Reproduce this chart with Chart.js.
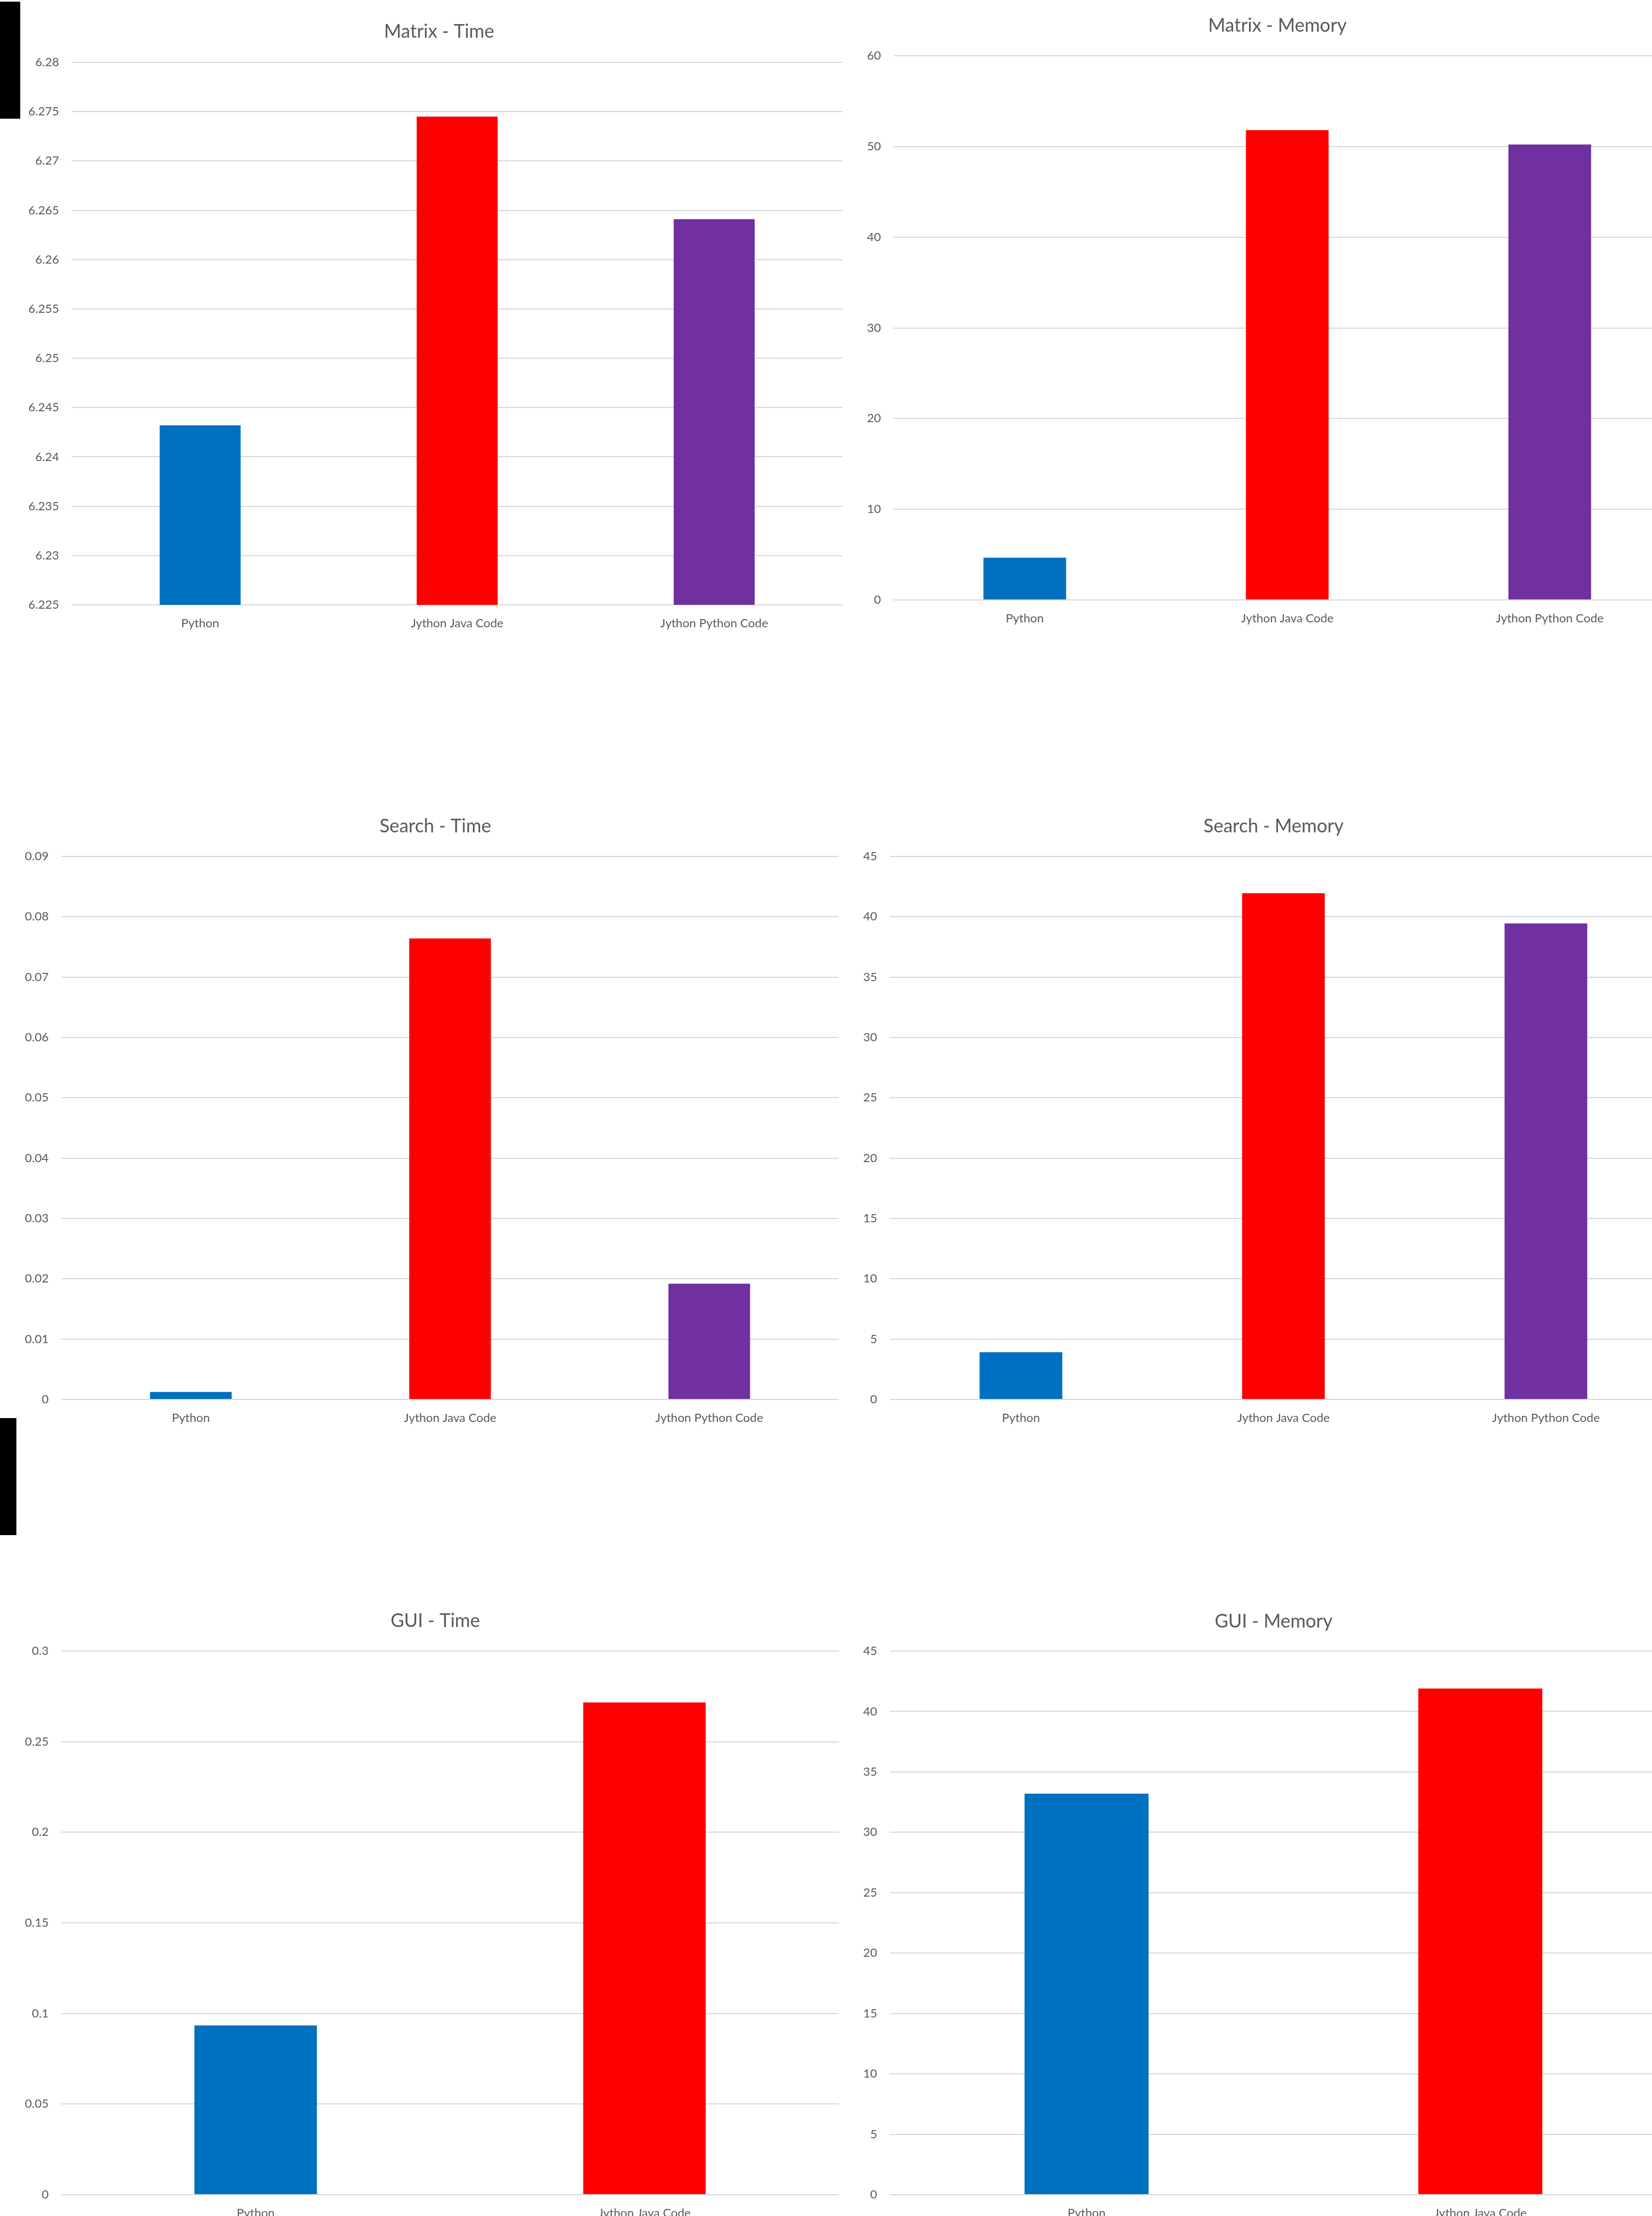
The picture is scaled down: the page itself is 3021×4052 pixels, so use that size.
<!DOCTYPE html>
<html>
<head>
<meta charset="utf-8">
<title>Python vs Jython benchmarks</title>
<script src="https://cdn.jsdelivr.net/npm/chart.js"></script>
<style>
    html, body { margin: 0; padding: 0; width: 3021px; height: 4052px; overflow: hidden; background: #fff; }
    canvas { position: absolute; }
    .mark { position: absolute; left: 0; background: #000; }
</style>
</head>
<body>
<div class="mark" style="top:3px;width:37px;height:214px"></div>
<div class="mark" style="top:2593px;width:30px;height:214px"></div>

<canvas id="matrixTime"></canvas>
<canvas id="matrixMemory"></canvas>
<canvas id="searchTime"></canvas>
<canvas id="searchMemory"></canvas>
<canvas id="guiTime"></canvas>
<canvas id="guiMemory"></canvas>

<script>
// Data
const threeCategories = ['Python', 'Jython Java Code', 'Jython Python Code'];
const twoCategories = ['Python', 'Jython Java Code'];

const matrixTimeValues = [6.2432, 6.2745, 6.2641];
const matrixMemoryValues = [4.66, 51.8, 50.22];
const searchTimeValues = [0.00125, 0.0764, 0.0192];
const searchMemoryValues = [3.92, 41.95, 39.45];
const guiTimeValues = [0.0934, 0.2716];
const guiMemoryValues = [33.2, 41.9];

const matrixTimeTicks = [6.225, 6.23, 6.235, 6.24, 6.245, 6.25, 6.255, 6.26, 6.265, 6.27, 6.275, 6.28];
const matrixMemoryTicks = [0, 10, 20, 30, 40, 50, 60];
const searchTimeTicks = [0, 0.01, 0.02, 0.03, 0.04, 0.05, 0.06, 0.07, 0.08, 0.09];
const searchMemoryTicks = [0, 5, 10, 15, 20, 25, 30, 35, 40, 45];
const guiTimeTicks = [0, 0.05, 0.1, 0.15, 0.2, 0.25, 0.3];
const guiMemoryTicks = [0, 5, 10, 15, 20, 25, 30, 35, 40, 45];

const barColors = ['#0070C0', '#FF0000', '#7030A0'];

const FONT = 'Lato, "Open Sans", sans-serif';
const TEXT = '#595959';
const GRID = '#d9d9d9';

// Build one chart; box = canvas placement and the space around the plot
function makeChart(id, title, categories, values, ticks, box) {
    const canvas = document.getElementById(id);
    canvas.width = box.w;
    canvas.height = box.h;
    canvas.style.left = box.x + 'px';
    canvas.style.top = box.y + 'px';

    return new Chart(canvas.getContext('2d'), {
        type: 'bar',
        data: {
            labels: categories,
            datasets: [{
                data: values,
                backgroundColor: barColors.slice(0, values.length),
                barPercentage: 0.315,
                categoryPercentage: 1
            }]
        },
        options: {
            responsive: false,
            animation: false,
            devicePixelRatio: 1,
            layout: { padding: 0 },
            plugins: {
                legend: { display: false },
                tooltip: { enabled: false },
                title: {
                    display: true,
                    text: title,
                    color: TEXT,
                    font: { family: FONT, size: 34, weight: 'normal', lineHeight: 1.2 },
                    padding: { top: box.titleTop, bottom: box.titleBottom }
                }
            },
            scales: {
                x: {
                    grid: { display: false },
                    border: { display: false },
                    ticks: {
                        color: TEXT,
                        font: { family: FONT, size: 22 },
                        padding: 13,
                        maxRotation: 0,
                        autoSkip: false
                    },
                    afterFit: (scale) => { scale.height = 70; }
                },
                y: {
                    min: ticks[0],
                    max: ticks[ticks.length - 1],
                    grid: { color: GRID, lineWidth: 2, drawTicks: false },
                    border: { display: false },
                    ticks: {
                        color: TEXT,
                        font: { family: FONT, size: 22 },
                        padding: 23,
                        callback: (value) => String(value)
                    },
                    afterBuildTicks: (scale) => {
                        scale.ticks = ticks.map(v => ({ value: v }));
                    },
                    afterFit: (scale) => { scale.width = box.axisWidth; }
                },
                // empty right-hand strip so the title centres like the original
                spacer: {
                    position: 'right',
                    grid: { display: false },
                    border: { display: false },
                    ticks: { display: false },
                    afterFit: (scale) => { scale.width = box.padRight; }
                }
            }
        }
    });
}

makeChart('matrixTime', 'Matrix - Time', threeCategories, matrixTimeValues, matrixTimeTicks,
    { x: 0, y: 0, w: 1606, h: 1106 + 70, axisWidth: 131, padRight: 65, titleTop: 37.6, titleBottom: 35.6 });

makeChart('matrixMemory', 'Matrix - Memory', threeCategories, matrixMemoryValues, matrixMemoryTicks,
    { x: 1545, y: 0, w: 1582, h: 1097 + 70, axisWidth: 89, padRight: 53, titleTop: 26.6, titleBottom: 34.6 });

makeChart('searchTime', 'Search - Time', threeCategories, searchTimeValues, searchTimeTicks,
    { x: 0, y: 1440, w: 1592, h: 2559 - 1440 + 70, axisWidth: 112, padRight: 58, titleTop: 50.6, titleBottom: 34.6 });

makeChart('searchMemory', 'Search - Memory', threeCategories, searchMemoryValues, searchMemoryTicks,
    { x: 1545, y: 1440, w: 1568, h: 2559 - 1440 + 70, axisWidth: 82, padRight: 46, titleTop: 50.6, titleBottom: 34.6 });

makeChart('guiTime', 'GUI - Time', twoCategories, guiTimeValues, guiTimeTicks,
    { x: 0, y: 2900, w: 1592, h: 4013 - 2900 + 70, axisWidth: 112, padRight: 58, titleTop: 43.6, titleBottom: 34.6 });

makeChart('guiMemory', 'GUI - Memory', twoCategories, guiMemoryValues, guiMemoryTicks,
    { x: 1545, y: 2900, w: 1568, h: 4013 - 2900 + 70, axisWidth: 82, padRight: 46, titleTop: 44.6, titleBottom: 33.6 });
</script>
</body>
</html>
